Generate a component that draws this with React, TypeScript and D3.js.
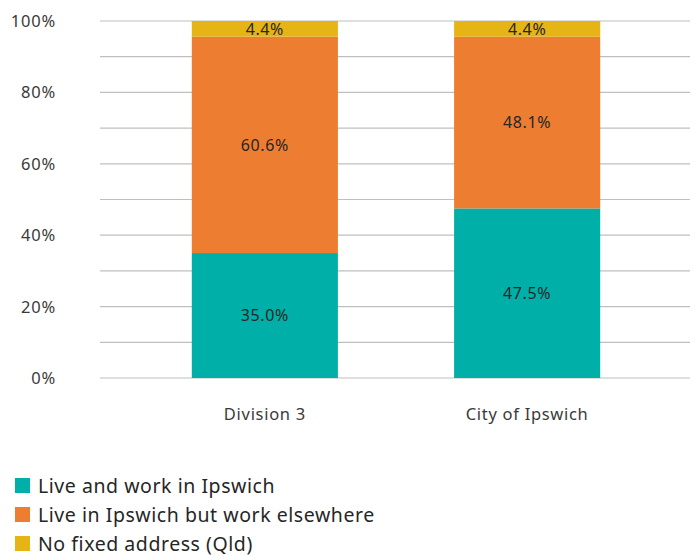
import React from "react";
import * as d3 from "d3";

const categories = ["Division 3", "City of Ipswich"];
const seriesNames = [
  "Live and work in Ipswich",
  "Live in Ipswich but work elsewhere",
  "No fixed address (Qld)",
];
const liveWork = [35.0, 47.5];
const workElsewhere = [60.6, 48.1];
const noFixed = [4.4, 4.4];
const colors = ["#00b0a8", "#ed7d31", "#e6b414"];
const yTicks = [0, 20, 40, 60, 80, 100];
const gridTicks = [0, 10, 20, 30, 40, 50, 60, 70, 80, 90, 100];

const W = 695;
const H = 556;
const margin = { top: 21, right: 3, bottom: 178, left: 100 };
const font = "'Noto Sans', Lato, sans-serif";

const App: React.FC = () => {
  const table = categories.map((c, i) => ({
    cat: c,
    s0: liveWork[i],
    s1: workElsewhere[i],
    s2: noFixed[i],
  }));
  const stack = d3.stack<any>().keys(["s0", "s1", "s2"]);
  const layers = stack(table);

  const x = d3
    .scaleBand<string>()
    .domain(categories)
    .range([margin.left, W - margin.right])
    .paddingInner(0.443)
    .paddingOuter(0.35);
  const y = d3
    .scaleLinear()
    .domain([0, 100])
    .range([H - margin.bottom, margin.top]);

  return (
    <svg
      width={W}
      height={H}
      style={{ position: "absolute", left: 0, top: 0, background: "#fff" }}
    >
      {gridTicks.map((t) => (
        <line
          key={t}
          x1={margin.left}
          x2={690}
          y1={y(t)}
          y2={y(t)}
          stroke="#bfbfbf"
          strokeWidth={1.2}
        />
      ))}
      {yTicks.map((t) => (
        <text
          key={t}
          x={56}
          y={y(t)}
          dy="0.36em"
          textAnchor="end"
          fontFamily={font}
          fontSize={16.5}
          letterSpacing={0.8}
          fill="#3a3a3a"
        >
          {t}%
        </text>
      ))}
      {layers.map((layer, li) =>
        layer.map((d, i) => (
          <g key={`${li}-${i}`}>
            <rect
              x={x(categories[i])}
              width={x.bandwidth()}
              y={y(d[1])}
              height={y(d[0]) - y(d[1])}
              fill={colors[li]}
            />
            <text
              x={(x(categories[i]) || 0) + x.bandwidth() / 2}
              y={y((d[0] + d[1]) / 2)}
              dy="0.36em"
              textAnchor="middle"
              fontFamily={font}
              fontSize={16}
              letterSpacing={0.6}
              fill="#262626"
            >
              {(d[1] - d[0]).toFixed(1)}%
            </text>
          </g>
        ))
      )}
      {categories.map((c) => (
        <text
          key={c}
          x={(x(c) || 0) + x.bandwidth() / 2}
          y={420}
          textAnchor="middle"
          fontFamily={font}
          fontSize={16.5}
          letterSpacing={0.7}
          fill="#3a3a3a"
        >
          {c}
        </text>
      ))}
      {seriesNames.map((s, i) => (
        <g key={s} transform={`translate(15,${478 + i * 29})`}>
          <rect width={15} height={15} fill={colors[i]} />
          <text
            x={23}
            y={15}
            fontFamily={font}
            fontSize={19.5}
            letterSpacing={0.55}
            fill="#262626"
          >
            {s}
          </text>
        </g>
      ))}
    </svg>
  );
};

export default App;
